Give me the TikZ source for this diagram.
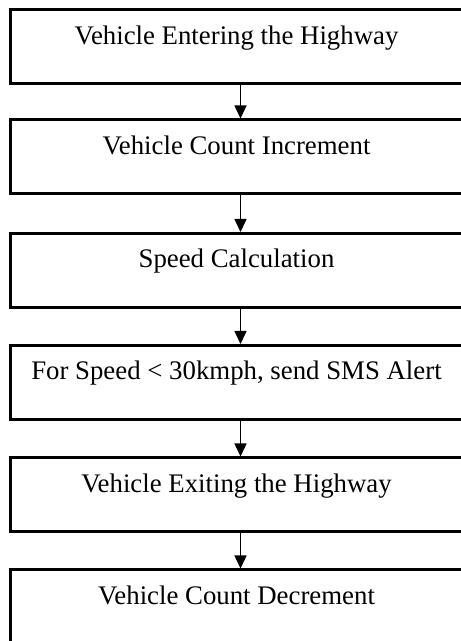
\documentclass[tikz,border=0pt]{standalone}
\usepackage{fontspec}
\setmainfont{Liberation Serif}
\usetikzlibrary{arrows.meta}
\newcommand{\txtleftshift}{\hspace*{-8pt}}
\begin{document}
\begin{tikzpicture}[x=1pt,y=1pt,
  stepbox/.style={draw=black, line width=3pt, rectangle, anchor=north,
    minimum width=460pt, inner xsep=0pt, inner ysep=0pt,
    text height=34.5pt, text depth=39.5pt,
    font=\fontsize{26.8}{30}\selectfont},
  flowarrow/.style={draw=black, line width=1.5pt, -{Triangle[length=13pt,width=12pt]}}]
\useasboundingbox (0,0) rectangle (461,641);
\clip (0,0) rectangle (461,641);
\fill[white] (0,0) rectangle (461,641);
\node[stepbox] (b1) at (240.5,{641-8.5}) {\txtleftshift Vehicle Entering the Highway};
\node[stepbox] (b2) at (240.5,{641-118.5}) {\txtleftshift Vehicle Count Increment};
\node[stepbox] (b3) at (240.5,{641-232}) {\txtleftshift Speed Calculation};
\node[stepbox] (b4) at (240.5,{641-344}) {\txtleftshift For Speed < 30kmph, send SMS Alert};
\node[stepbox] (b5) at (240.5,{641-456.5}) {\txtleftshift Vehicle Exiting the Highway};
\node[stepbox] (b6) at (240.5,{641-568.5}) {\txtleftshift Vehicle Count Decrement};
\draw[flowarrow] (b1.south) -- (b2.north);
\draw[flowarrow] (b2.south) -- (b3.north);
\draw[flowarrow] (b3.south) -- (b4.north);
\draw[flowarrow] (b4.south) -- (b5.north);
\draw[flowarrow] (b5.south) -- (b6.north);
\end{tikzpicture}
\end{document}
